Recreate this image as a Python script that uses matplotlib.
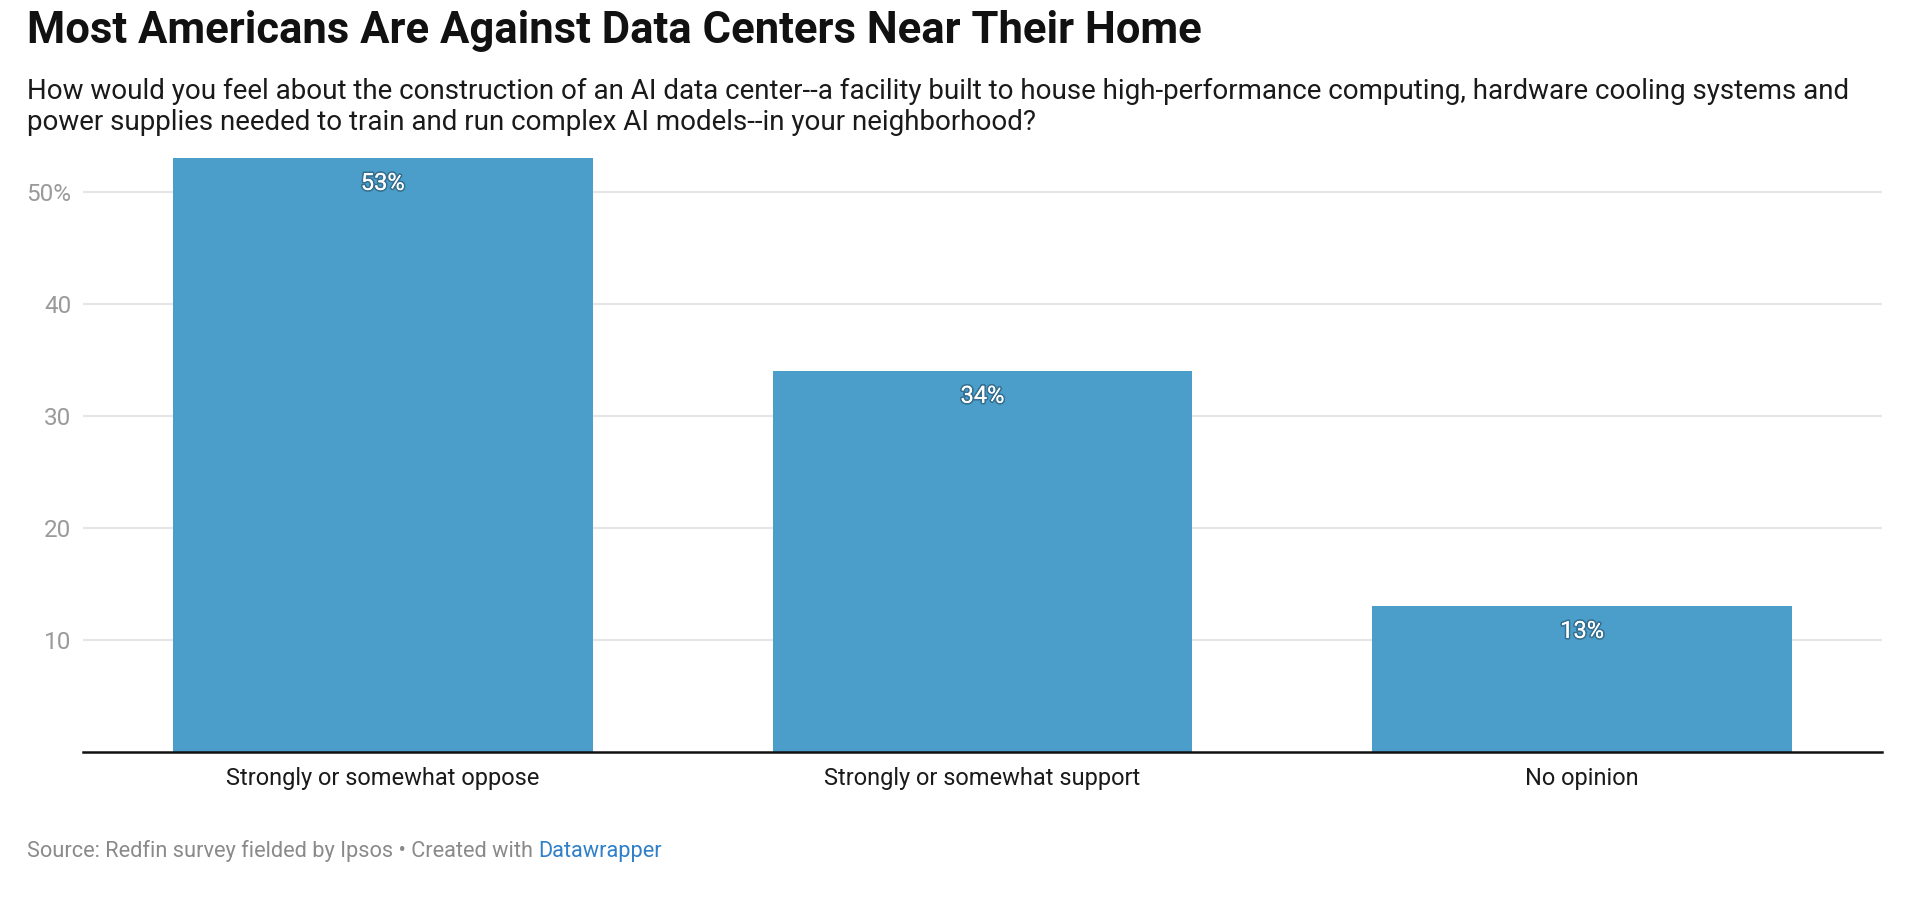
import matplotlib
matplotlib.use('Agg')
import matplotlib.pyplot as plt
import matplotlib.patheffects as pe

plt.rcParams['font.family'] = ['Roboto', 'DejaVu Sans']

categories = ['Strongly or somewhat oppose', 'Strongly or somewhat support', 'No opinion']
shares     = [53, 34, 13]
yticks     = [10, 20, 30, 40, 50]
ytick_lbls = ['10', '20', '30', '40', '50%']

title    = 'Most Americans Are Against Data Centers Near Their Home'
subtitle = ('How would you feel about the construction of an AI data center--a facility built '
            'to house high-performance computing, hardware cooling systems and\n'
            'power supplies needed to train and run complex AI models--in your neighborhood?')
source   = 'Source: Redfin survey fielded by Ipsos \u2022 Created with '

W, H = 1920, 900
fig = plt.figure(figsize=(W / 100, H / 100), dpi=100)


def fy(px):  # pixel from top -> figure fraction
    return 1 - px / H


ax = fig.add_axes([83 / W, fy(752), (1882 - 83) / W, (752 - 136) / H])

bars = ax.bar(range(len(categories)), shares, width=0.7, color='#4a9ec9', zorder=2)
ax.set_xlim(-0.5, len(categories) - 0.5)
ax.set_ylim(0, 55)

ax.set_yticks(yticks)
ax.set_yticklabels(ytick_lbls)
ax.set_xticks(range(len(categories)))
ax.set_xticklabels(categories)
# pad is in points
ax.tick_params(axis='y', length=0, pad=8.5, labelsize=17.5, labelcolor='#9a9a9a')
ax.tick_params(axis='x', length=0, pad=11, labelsize=17, labelcolor='#1a1a1a')

ax.grid(axis='y', color='#e5e5e5', linewidth=1.6, zorder=0)
for s in ['top', 'right', 'left']:
    ax.spines[s].set_visible(False)
ax.spines['bottom'].set_linewidth(1.8)
ax.spines['bottom'].set_color('#111111')
ax.spines['bottom'].set_zorder(3)

for b, v in zip(bars, shares):
    ax.annotate(f'{v}%', (b.get_x() + b.get_width() / 2, v), xytext=(0, -25),
                textcoords='offset pixels', ha='center', va='center',
                color='white', fontsize=17, zorder=4,
                path_effects=[pe.withStroke(linewidth=2.5, foreground='#1c3a4f', alpha=0.45),
                              pe.Normal()])

fig.text(27 / W, fy(43), title, fontsize=31.4, fontweight='bold', color='#111111',
         va='baseline', ha='left')
# va='baseline' on multi-line text anchors the last line
fig.text(27 / W, fy(130), subtitle, fontsize=20, color='#1a1a1a', va='baseline',
         ha='left', linespacing=1.2)

src = fig.text(27 / W, fy(857), source, fontsize=15.7, color='#8a8a8a',
               va='baseline', ha='left')
ax.annotate('Datawrapper', xy=(1, 0), xycoords=src, va='bottom', ha='left',
            fontsize=15.7, color='#2f80c8', annotation_clip=False)

fig.savefig('out.png', dpi=100, facecolor='white')
